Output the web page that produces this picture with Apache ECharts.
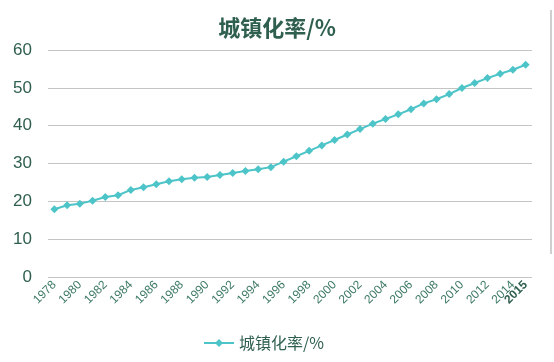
<!DOCTYPE html>
<html>
<head>
<meta charset="utf-8">
<script src="https://cdn.jsdelivr.net/npm/echarts@6/dist/echarts.min.js"></script>
<style>html,body{margin:0;padding:0;background:#fff;}#c{width:554px;height:362px;}</style>
</head>
<body>
<div id="c"></div>
<script>
const years = ['1978','1979','1980','1981','1982','1983','1984','1985','1986','1987','1988','1989','1990','1991','1992','1993','1994','1995','1996','1997','1998','1999','2000','2001','2002','2003','2004','2005','2006','2007','2008','2009','2010','2011','2012','2013','2014','2015'];
const urbanRate = [17.92,18.96,19.39,20.16,21.13,21.62,23.01,23.71,24.52,25.32,25.81,26.21,26.41,26.94,27.46,27.99,28.51,29.04,30.48,31.91,33.35,34.78,36.22,37.66,39.09,40.53,41.76,42.99,44.34,45.89,46.99,48.34,49.95,51.27,52.57,53.73,54.77,56.10];
const seriesName = '城镇化率/%';
const yTicks = {min: 0, max: 60, interval: 10};

const textColor = '#2f5f4f';
const last = years.length - 1;
const baseLabel = {rotate: 45, margin: 6, fontSize: 12, color: '#3d7a62', fontFamily: 'Liberation Sans', hideOverlap: false};
const chart = echarts.init(document.getElementById('c'));
chart.setOption({
  animation: false,
  title: {
    text: seriesName, left: 'center', top: 12,
    textStyle: {fontFamily: 'Noto Sans CJK SC', fontSize: 22, fontWeight: 'bold', color: textColor}
  },
  legend: {
    bottom: 6, left: 198, itemWidth: 30, itemHeight: 10,
    textStyle: {fontFamily: 'Noto Sans CJK SC', fontSize: 16, color: textColor},
    data: [seriesName]
  },
  grid: {left: 48, right: 22, top: 50, bottom: 85},
  xAxis: [{
    type: 'category', data: years, boundaryGap: true, position: 'bottom',
    axisLine: {show: false}, axisTick: {show: false},
    axisLabel: Object.assign({}, baseLabel, {
      showMinLabel: true, showMaxLabel: true,
      interval: function (i) { return i % 2 === 0; }
    })
  }, {
    type: 'category', data: years, boundaryGap: true, position: 'bottom', offset: 0,
    axisLine: {show: false}, axisTick: {show: false}, splitLine: {show: false},
    axisLabel: Object.assign({}, baseLabel, {
      showMinLabel: false, showMaxLabel: true,
      fontWeight: 'bold', color: textColor,
      interval: function (i) { return i === last; }
    })
  }],
  yAxis: {
    type: 'value', min: yTicks.min, max: yTicks.max, interval: yTicks.interval,
    axisLine: {show: false}, axisTick: {show: false},
    axisLabel: {fontSize: 17, color: textColor, margin: 16, fontFamily: 'Liberation Sans'},
    splitLine: {lineStyle: {color: '#c4c4c4', width: 1}}
  },
  series: [{
    name: seriesName, type: 'line', data: urbanRate, xAxisIndex: 0,
    symbol: 'diamond', symbolSize: 8,
    lineStyle: {color: '#4cc4c8', width: 2},
    itemStyle: {color: '#4cc4c8'}
  }],
  graphic: [{
    type: 'line', shape: {x1: 551, y1: 10, x2: 551, y2: 254},
    style: {stroke: '#cfcfcf', lineWidth: 2}
  }]
});
</script>
</body>
</html>
